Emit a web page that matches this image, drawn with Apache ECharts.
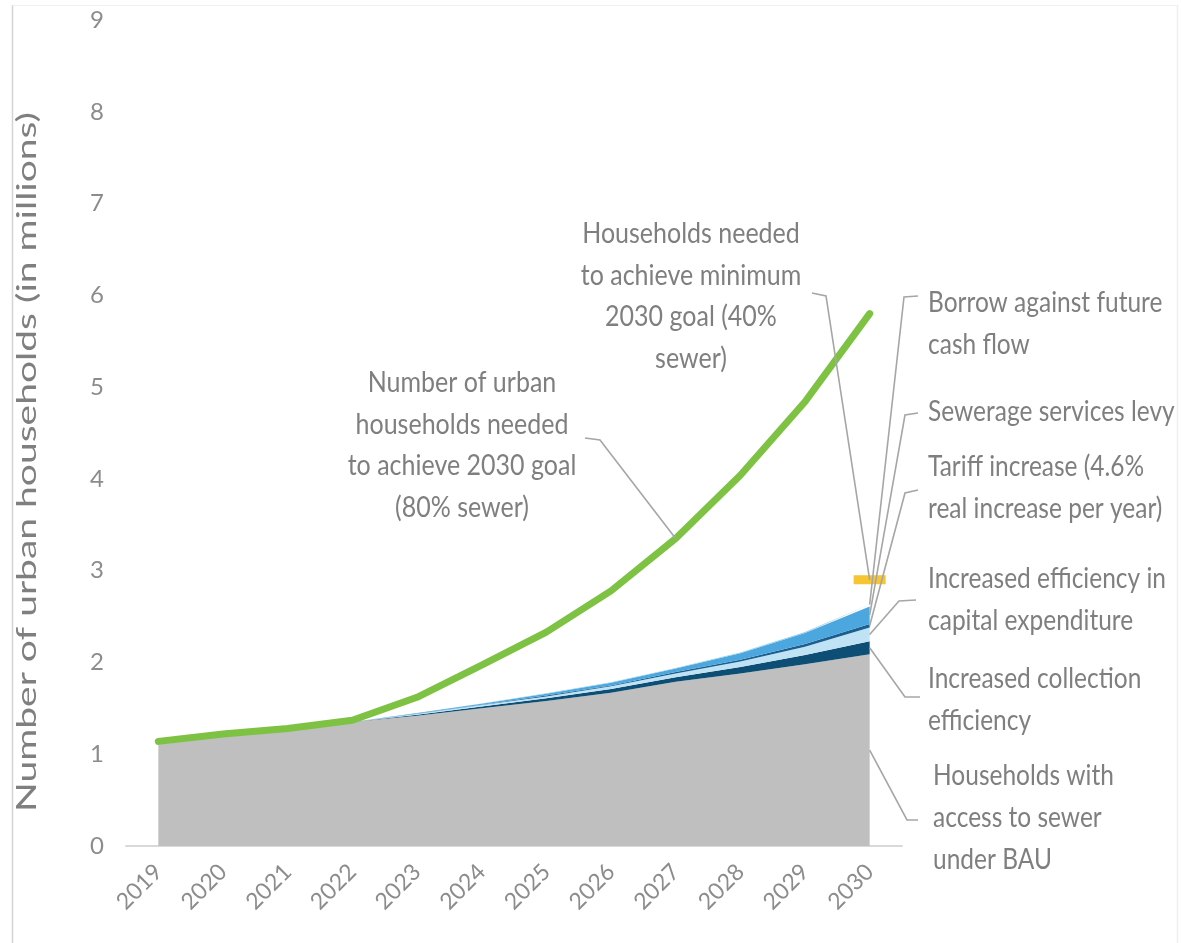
<!DOCTYPE html>
<html>
<head>
<meta charset="utf-8">
<script src="https://cdn.jsdelivr.net/npm/echarts@6/dist/echarts.min.js"></script>
<style>
  html, body { margin: 0; padding: 0; background: #ffffff; }
  #chart { width: 1181px; height: 943px; }
</style>
</head>
<body>
<div id="chart"></div>
<script>
// Years on the horizontal axis
const years = ['2019', '2020', '2021', '2022', '2023', '2024', '2025', '2026', '2027', '2028', '2029', '2030'];

// Households with sewer access under business as usual (millions)
const bau = [1.13, 1.20, 1.27, 1.35, 1.42, 1.50, 1.58, 1.67, 1.79, 1.88, 1.98, 2.09];
// Additional households from each financing measure (stacked on BAU)
const collection = [0, 0, 0, 0, 0.01, 0.02, 0.03, 0.04, 0.05, 0.07, 0.10, 0.14];
const capex      = [0, 0, 0, 0, 0.01, 0.015, 0.02, 0.03, 0.04, 0.06, 0.09, 0.15];
const tariff     = [0, 0, 0, 0, 0.005, 0.005, 0.01, 0.01, 0.015, 0.02, 0.03, 0.04];
const levy       = [0, 0, 0, 0, 0.005, 0.01, 0.02, 0.03, 0.04, 0.07, 0.12, 0.19];
const borrow     = [0, 0, 0, 0, 0, 0.002, 0.003, 0.004, 0.005, 0.008, 0.012, 0.02];

// Households needed to reach the 80% sewer goal by 2030
const goal80 = [1.14, 1.22, 1.28, 1.37, 1.62, 1.97, 2.33, 2.78, 3.35, 4.04, 4.84, 5.80];
// Households needed for the minimum (40% sewer) goal, 2030 only
const goal40 = [null, null, null, null, null, null, null, null, null, null, null, 2.9];

// Value axis ticks
const yTicks = [0, 1, 2, 3, 4, 5, 6, 7, 8, 9];

const FONT = 'Lato, "Open Sans", sans-serif';
const GREY_TEXT = '#7f7f7f';

const areaSeries = (name, data, color) => ({
  name: name,
  type: 'line',
  stack: 'access',
  data: data,
  symbol: 'none',
  lineStyle: { width: 0 },
  areaStyle: { color: color, opacity: 1 },
  itemStyle: { color: color },
  z: 2
});

const option = {
  animation: false,
  backgroundColor: '#ffffff',
  grid: { left: 126, right: 279, top: 20, bottom: 97, containLabel: false },
  xAxis: {
    type: 'category',
    data: years,
    boundaryGap: true,
    axisLine: { show: true, lineStyle: { color: '#d9d9d9', width: 2 } },
    axisTick: { show: false },
    axisLabel: {
      rotate: 45,
      margin: 22,
      fontSize: 23,
      fontFamily: FONT,
      color: '#8c8c8c'
    },
    splitLine: { show: false }
  },
  yAxis: {
    type: 'value',
    min: yTicks[0],
    max: yTicks[yTicks.length - 1],
    interval: 1,
    axisLine: { show: false },
    axisTick: { show: false },
    splitLine: { show: false },
    axisLabel: {
      margin: 22,
      fontSize: 24,
      fontFamily: FONT,
      color: '#8c8c8c'
    }
  },
  series: [
    areaSeries('Households with access to sewer under BAU', bau, '#bfbfbf'),
    areaSeries('Increased collection efficiency', collection, '#0d4f74'),
    areaSeries('Increased efficiency in capital expenditure', capex, '#bfe2f5'),
    areaSeries('Tariff increase', tariff, '#1c5f8e'),
    areaSeries('Sewerage services levy', levy, '#4ba7dd'),
    areaSeries('Borrow against future cash flow', borrow, '#8ccbef'),
    {
      name: 'Households needed (80% sewer)',
      type: 'line',
      data: goal80,
      symbol: 'none',
      lineStyle: { color: '#7dc242', width: 7, cap: 'round', join: 'round' },
      itemStyle: { color: '#7dc242' },
      z: 5
    },
    {
      name: 'Households needed (40% sewer)',
      type: 'scatter',
      data: goal40,
      symbol: 'rect',
      symbolSize: [32, 9],
      itemStyle: { color: '#f2b600' },
      z: 6
    }
  ]
};

const chart = echarts.init(document.getElementById('chart'));
chart.setOption(option);

// Pixel position of a data value
const px = (i, v) => chart.convertToPixel({ xAxisIndex: 0, yAxisIndex: 0 }, [i, v]);

// Stack boundaries at the final year, used to anchor the callouts
const last = years.length - 1;
const layers = [bau, collection, capex, tariff, levy, borrow];
const mids = [];
let acc = 0;
layers.forEach(arr => { mids.push(acc + arr[last] / 2); acc += arr[last]; });
const stackTop = acc;

const callouts = [
  { text: 'Number of urban\nhouseholds needed\nto achieve 2030 goal\n(80% sewer)', x: 462, y: 445, align: 'center', size: 25,
    lead: [[585, 438], [600, 440]], anchor: px(8, goal80[8]) },
  { text: 'Households needed\nto achieve minimum\n2030 goal (40%\nsewer)', x: 691, y: 296, align: 'center', size: 25,
    lead: [[812, 293], [826, 296]], anchor: px(last, goal40[last]) },
  { text: 'Borrow against future\ncash flow', x: 928, y: 324, align: 'left', size: 24.5,
    lead: [[918, 296], [904, 297]], anchor: px(last, stackTop) },
  { text: 'Sewerage services levy', x: 928, y: 412, align: 'left', size: 24.5,
    lead: [[918, 413], [905, 415]], anchor: px(last, mids[4]) },
  { text: 'Tariff increase (4.6%\nreal increase per year)', x: 928, y: 488, align: 'left', size: 24.5,
    lead: [[918, 490], [905, 493]], anchor: px(last, mids[3]) },
  { text: 'Increased efficiency in\ncapital expenditure', x: 928, y: 600, align: 'left', size: 24.5,
    lead: [[916, 600], [899, 601]], anchor: px(last, mids[2]) },
  { text: 'Increased collection\nefficiency', x: 928, y: 700, align: 'left', size: 24.5,
    lead: [[920, 697], [905, 697]], anchor: px(last, mids[1]) },
  { text: 'Households with\naccess to sewer\nunder BAU', x: 933, y: 818, align: 'left', size: 24.5,
    lead: [[918, 820], [907, 820]], anchor: px(last, mids[0]) }
];

const graphics = [];

// Light frame round the figure
graphics.push({ type: 'line', silent: true, z: 100,
  shape: { x1: 12.5, y1: 5, x2: 12.5, y2: 943 }, style: { stroke: '#d4d4d4', lineWidth: 1.5 } });
graphics.push({ type: 'line', silent: true, z: 100,
  shape: { x1: 12.5, y1: 5.5, x2: 1177, y2: 5.5 }, style: { stroke: '#f0f0f0', lineWidth: 1 } });
graphics.push({ type: 'line', silent: true, z: 100,
  shape: { x1: 1177.5, y1: 5, x2: 1177.5, y2: 943 }, style: { stroke: '#efefef', lineWidth: 1.5 } });

// Vertical axis title
graphics.push({
  type: 'text', silent: true, z: 100,
  x: 28, y: 462, rotation: Math.PI / 2, scaleX: 1.5, scaleY: 1,
  style: { text: 'Number of urban households (in millions)', fill: GREY_TEXT,
    font: '26px ' + FONT, textAlign: 'center', textVerticalAlign: 'middle' }
});

callouts.forEach(c => {
  graphics.push({
    type: 'polyline', silent: true, z: 90,
    shape: { points: c.lead.concat([c.anchor]) },
    style: { stroke: '#a6a6a6', lineWidth: 1.6, fill: null }
  });
  graphics.push({
    type: 'text', silent: true, z: 100,
    x: c.x, y: c.y, scaleX: 1, scaleY: 1.18,
    style: { text: c.text, fill: GREY_TEXT, font: c.size + 'px ' + FONT, lineHeight: 35.5,
      textAlign: c.align, textVerticalAlign: 'middle' }
  });
});

chart.setOption({ graphic: { elements: graphics } });
</script>
</body>
</html>
